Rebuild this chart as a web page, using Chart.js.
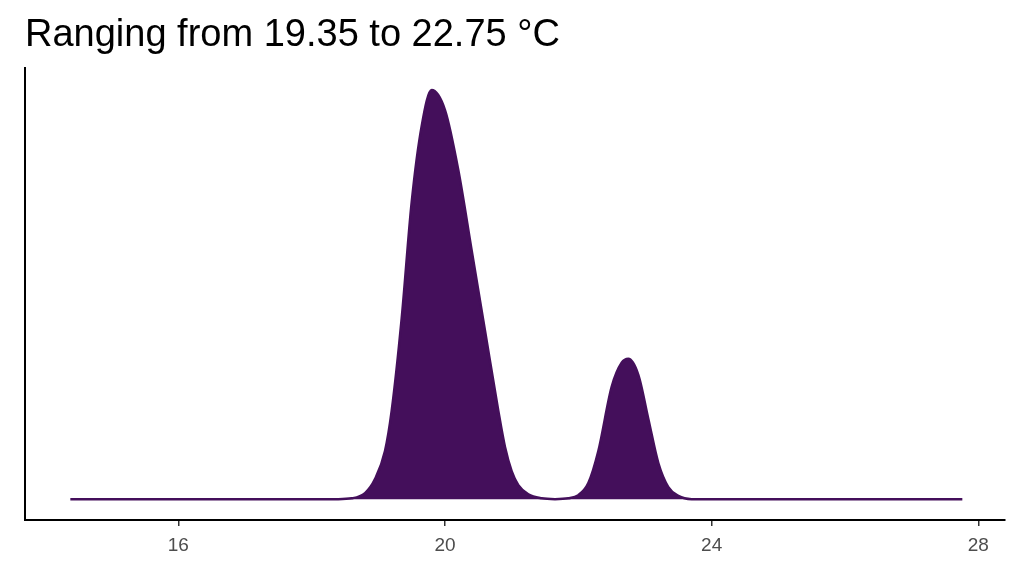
<!DOCTYPE html>
<html><head><meta charset="utf-8">
<script src="https://cdn.jsdelivr.net/npm/chart.js@4"></script>
<style>html,body{margin:0;padding:0;background:#fff}#w{width:1024px;height:576px}</style>
</head><body><div id="w"><canvas id="c"></canvas></div>
<script>
const temps = [14.38,18.4,18.6,18.8,18.95,19.1,19.2,19.35,19.5,19.65,19.8,20.0,20.2,20.4,20.6,20.8,20.9,21.0,21.1,21.25,21.45,21.65,21.85,22.0,22.15,22.3,22.5,22.65,22.75,22.9,23.05,23.2,23.35,23.5,23.7,27.76];
const density = [0,0,0.002,0.015,0.05,0.12,0.22,0.45,0.74,0.93,1.02,0.97,0.82,0.62,0.42,0.22,0.13,0.07,0.035,0.012,0.002,0,0.002,0.01,0.04,0.12,0.28,0.34,0.35,0.31,0.2,0.09,0.03,0.008,0,0];
const xTicks = [16,20,24,28];
const titleText = 'Ranging from 19.35 to 22.75 °C';

const titlePlugin = {id:'t',afterDraw(ch){const c=ch.ctx;c.save();c.fillStyle='#000';c.font='38px "Liberation Sans", Arial, sans-serif';c.textBaseline='alphabetic';c.fillText(titleText,25,46);c.restore();}};
new Chart(document.getElementById('c'),{
  type:'line',
  data:{datasets:[{data:temps.map((t,i)=>({x:t,y:density[i]})),borderColor:'#440f5b',backgroundColor:'#440f5b',fill:'origin',borderWidth:2.5,pointRadius:0,cubicInterpolationMode:'monotone'}]},
  options:{responsive:true,maintainAspectRatio:false,animation:false,
    layout:{padding:{left:25,top:68,right:19,bottom:0}},
    plugins:{legend:{display:false},tooltip:{enabled:false}},
    scales:{
      x:{type:'linear',min:13.7,max:28.4,afterBuildTicks(s){s.ticks=xTicks.map(v=>({value:v}));},
        afterFit(s){s.height=56;},
        ticks:{color:'#4d4d4d',font:{size:19,family:'"Liberation Sans", Arial, sans-serif'},padding:8},
        grid:{drawOnChartArea:false,drawTicks:true,tickLength:6,color:'#333',lineWidth:1.5},
        border:{color:'#000',width:2}},
      y:{min:-0.052,max:1.075,afterFit(s){s.width=0;},ticks:{display:false},
        grid:{display:false},border:{color:'#000',width:2}}
    }},
  plugins:[titlePlugin]
});
</script></body></html>
